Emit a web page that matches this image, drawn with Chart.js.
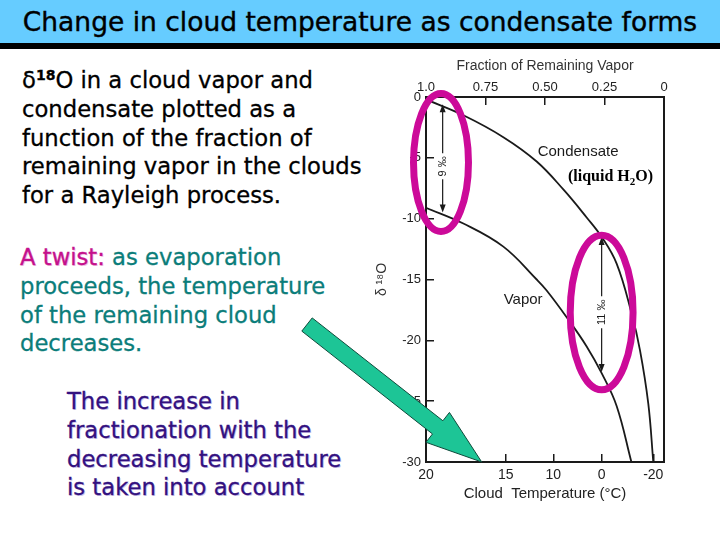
<!DOCTYPE html>
<html>
<head>
<meta charset="utf-8">
<script src="https://cdn.jsdelivr.net/npm/chart.js@4.4.1/dist/chart.umd.min.js"></script>
<style>
  body { margin:0; width:720px; height:540px; background:#fff; position:relative; overflow:hidden;
         font-family:"Comic Sans MS","DejaVu Sans",sans-serif; }
  #title { position:absolute; left:0; top:0; width:720px; height:43px; background:#66ccff;
           border-bottom:6px solid #000; text-align:center; font-size:26.5px; line-height:43px; color:#000;
           -webkit-text-stroke:0.4px #000; }
  .blk { position:absolute; font-size:22.7px; line-height:28.8px; white-space:nowrap; -webkit-text-stroke:0.3px currentColor; }
  #b1 { left:22px; top:66px; color:#000; }
  #b1 sup { font-size:14px; font-weight:bold; vertical-align:8px; line-height:0; }
  #b2 { left:20px; top:243px; color:#0b7d7a; }
  #b2 .tw { color:#c4118c; text-shadow:1px 1px 0 #f2c4e4; }
  #b3 { left:67px; top:387px; color:#33117f; text-shadow:1px 1px 0 #cfc6ec; }
  #chart { position:absolute; left:0; top:0; }
</style>
</head>
<body>
<div id="title">Change in cloud temperature as condensate forms</div>
<div class="blk" id="b1">δ<sup>18</sup>O in a cloud vapor and<br>condensate plotted as a<br>function of the fraction of<br>remaining vapor in the clouds<br>for a Rayleigh process.</div>
<div class="blk" id="b2"><span class="tw">A twist:</span> as evaporation<br>proceeds, the temperature<br>of the remaining cloud<br>decreases.</div>
<div class="blk" id="b3">The increase in<br>fractionation with the<br>decreasing temperature<br>is taken into account</div>
<canvas id="chart" width="720" height="540"></canvas>
<script>
// values
const condensateFraction = [1.0, 0.843, 0.675, 0.535, 0.423, 0.325, 0.262, 0.199, 0.136, 0.101, 0.066, 0.045];
const condensateDelta    = [-0.2, -1.5, -3.3, -5.3, -7.6, -9.9, -11.5, -13.7, -17.8, -20.8, -25.2, -30];
const vaporFraction = [1.0, 0.843, 0.675, 0.535, 0.493, 0.409, 0.325, 0.262, 0.199, 0.137];
const vaporDelta    = [-9.1, -10.4, -12.3, -15.0, -15.9, -18.1, -20.5, -22.7, -25.4, -30];

const fractionTicks  = [1.0, 0.75, 0.5, 0.25, 0];
const fractionLabels = ['1.0', '0.75', '0.50', '0.25', '0'];
const deltaTicks = [0, -5, -10, -15, -20, -25, -30];
// cloud temperature labels sit at these fractions on the bottom axis
const tempFractions = [1.0, 0.665, 0.465, 0.262, 0.045];
const tempLabels    = ['20', '15', '10', '0', '-20'];

const axisFont = { family: 'Liberation Sans', size: 13 };
const ink = '#1a1a1a';

const notes = {
    id: 'notes',
    afterDraw(chart) {
        const { ctx, scales: { x, y } } = chart;
        const px = v => x.getPixelForValue(v);
        const py = v => y.getPixelForValue(v);
        ctx.save();

        // curve labels
        ctx.fillStyle = ink;
        ctx.textAlign = 'center';
        ctx.textBaseline = 'middle';
        ctx.font = '15px "Liberation Sans"';
        ctx.fillText('Condensate', px(0.361), py(-4.5));
        ctx.fillText('Vapor', px(0.592), py(-16.7));

        // (liquid H2O) with subscript
        ctx.fillStyle = '#000';
        ctx.textAlign = 'left';
        ctx.font = 'bold 16px "Liberation Serif"';
        let lx = px(0.206) - 47, ly = py(-6.6);
        const a = '(liquid H';
        ctx.fillText(a, lx, ly);
        lx += ctx.measureText(a).width;
        ctx.font = 'bold 11px "Liberation Serif"';
        ctx.fillText('2', lx, ly + 5);
        lx += ctx.measureText('2').width;
        ctx.font = 'bold 16px "Liberation Serif"';
        ctx.fillText('O)', lx, ly);

        // double headed arrows with rotated per-mil labels
        const gaps = [
            { f: 0.93, top: -0.6, bottom: -9.5, mid: -5.7, text: '9 ‰', half: 13 },
            { f: 0.262, top: -11.5, bottom: -22.6, mid: -17.7, text: '11 ‰', half: 16 }
        ];
        ctx.strokeStyle = ink;
        ctx.fillStyle = ink;
        ctx.lineWidth = 1.2;
        gaps.forEach(g => {
            const gx = px(g.f), y1 = py(g.top), y2 = py(g.bottom), ym = py(g.mid);
            ctx.beginPath();
            ctx.moveTo(gx, y1 + 6); ctx.lineTo(gx, ym - g.half);
            ctx.moveTo(gx, ym + g.half); ctx.lineTo(gx, y2 - 6);
            ctx.stroke();
            [[y1, 1], [y2, -1]].forEach(([ty, d]) => {
                ctx.beginPath();
                ctx.moveTo(gx, ty);
                ctx.lineTo(gx - 3, ty + d * 8);
                ctx.lineTo(gx + 3, ty + d * 8);
                ctx.closePath();
                ctx.fill();
            });
            ctx.save();
            ctx.translate(gx, ym);
            ctx.rotate(-Math.PI / 2);
            ctx.textAlign = 'center';
            ctx.font = '11px "Liberation Sans"';
            ctx.fillText(g.text, 0, 0);
            ctx.restore();
        });

        // magenta ellipses
        ctx.strokeStyle = '#cc0a99';
        ctx.lineWidth = 7;
        [[0.937, -5.38, 0.1155, 5.67], [0.262, -17.71, 0.132, 6.35]].forEach(([f, d, rf, rd]) => {
            const cx = px(f), cy = py(d);
            ctx.beginPath();
            ctx.ellipse(cx, cy, Math.abs(px(f - rf) - cx), Math.abs(py(d - rd) - cy), 0, 0, Math.PI * 2);
            ctx.stroke();
        });

        // green arrow pointing at the temperature axis
        const tx = px(1.50), ty = py(-18.7), hx = px(0.766), hy = py(-30);
        const len = Math.hypot(hx - tx, hy - ty);
        const ux = (hx - tx) / len, uy = (hy - ty) / len, nx = -uy, ny = ux;
        const w = 8.4, H = 19, L = 56;
        const bx = hx - ux * L, by = hy - uy * L;
        ctx.beginPath();
        ctx.moveTo(tx + nx * w, ty + ny * w);
        ctx.lineTo(bx + nx * w, by + ny * w);
        ctx.lineTo(bx + nx * H, by + ny * H);
        ctx.lineTo(hx, hy);
        ctx.lineTo(bx - nx * H, by - ny * H);
        ctx.lineTo(bx - nx * w, by - ny * w);
        ctx.lineTo(tx - nx * w, ty - ny * w);
        ctx.closePath();
        ctx.fillStyle = '#1dc596';
        ctx.fill();
        ctx.strokeStyle = '#0d4a3a';
        ctx.lineWidth = 1;
        ctx.stroke();
        ctx.restore();
    }
};

const ctx = document.getElementById('chart').getContext('2d');
new Chart(ctx, {
    type: 'line',
    data: {
        datasets: [{
            label: 'Condensate',
            data: condensateFraction.map((f, i) => ({ x: f, y: condensateDelta[i] })),
            borderColor: ink, borderWidth: 1.8, pointRadius: 0,
            tension: 0.4, xAxisID: 'x', yAxisID: 'y'
        }, {
            label: 'Vapor',
            data: vaporFraction.map((f, i) => ({ x: f, y: vaporDelta[i] })),
            borderColor: ink, borderWidth: 1.8, pointRadius: 0,
            tension: 0.4, xAxisID: 'x', yAxisID: 'y'
        }]
    },
    options: {
        responsive: false,
        animation: false,
        layout: { padding: { left: 370, right: 56, top: 50, bottom: 30 } },
        plugins: { legend: { display: false }, tooltip: { enabled: false } },
        scales: {
            x: {
                type: 'linear', position: 'top', min: 0, max: 1, reverse: true,
                afterBuildTicks: s => { s.ticks = fractionTicks.map(v => ({ value: v })); },
                afterFit: s => { s.height = 47; },
                ticks: { callback: (v, i) => fractionLabels[i], color: '#222', font: axisFont, padding: 10, maxRotation: 0, autoSkip: false },
                grid: { drawOnChartArea: false, tickLength: -8, color: ink, lineWidth: 1.5 },
                border: { color: ink, width: 2 },
                title: { display: true, text: 'Fraction of Remaining Vapor', color: '#333', font: { family: 'Liberation Sans', size: 14 }, padding: { top: 8, bottom: 0 } }
            },
            x2: {
                type: 'linear', position: 'bottom', min: 0, max: 1, reverse: true,
                afterBuildTicks: s => { s.ticks = tempFractions.map(v => ({ value: v })); },
                afterFit: s => { s.height = 48; },
                ticks: { callback: (v, i) => tempLabels[i], color: '#222', font: { family: 'Liberation Sans', size: 14 }, padding: 13, maxRotation: 0, autoSkip: false },
                grid: { drawOnChartArea: false, tickLength: -8, color: ink, lineWidth: 1.5 },
                border: { color: ink, width: 2 },
                title: { display: true, text: 'Cloud  Temperature (°C)', color: '#222', font: { family: 'Liberation Sans', size: 15 }, padding: { top: 0, bottom: 7 } }
            },
            y: {
                type: 'linear', position: 'left', min: -30, max: 0,
                afterBuildTicks: s => { s.ticks = deltaTicks.map(v => ({ value: v })); },
                afterFit: s => { s.width = 56; },
                ticks: { color: '#222', font: axisFont, padding: 13 },
                grid: { drawOnChartArea: false, tickLength: -8, color: ink, lineWidth: 1.5 },
                border: { color: ink, width: 2 },
                title: { display: true, text: 'δ ¹⁸O', color: '#333', font: { family: 'Liberation Sans', size: 14 }, padding: { top: 4, bottom: 0 } }
            },
            y2: {
                type: 'linear', position: 'right', min: -30, max: 0,
                afterFit: s => { s.width = 0; },
                ticks: { display: false },
                grid: { drawOnChartArea: false, drawTicks: false },
                border: { color: ink, width: 2 }
            }
        }
    },
    plugins: [notes]
});
</script>
</body>
</html>
